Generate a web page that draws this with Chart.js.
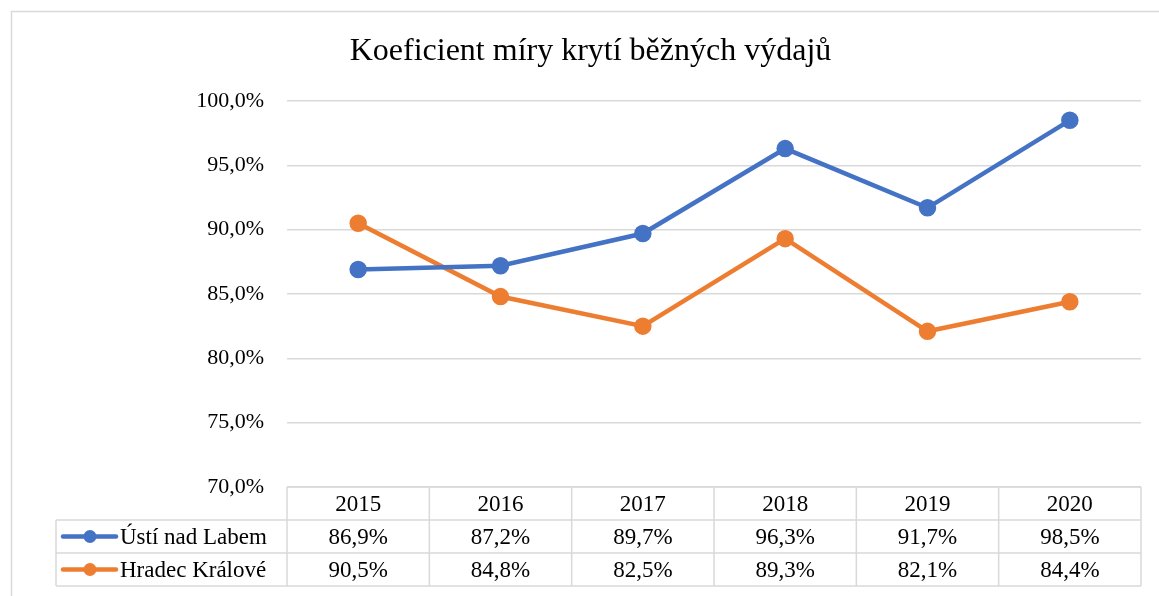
<!DOCTYPE html>
<html>
<head>
<meta charset="utf-8">
<script src="https://cdn.jsdelivr.net/npm/chart.js@4"></script>
<style>
  html, body { margin: 0; padding: 0; background: #fff; }
  #wrap { width: 1159px; height: 596px; position: relative; }
</style>
</head>
<body>
<div id="wrap"><canvas id="chart"></canvas></div>
<script>
// === data ===
const years = ["2015", "2016", "2017", "2018", "2019", "2020"];
const seriesNames = ["Ústí nad Labem", "Hradec Králové"];
const ustiValues = [86.9, 87.2, 89.7, 96.3, 91.7, 98.5];
const hradecValues = [90.5, 84.8, 82.5, 89.3, 82.1, 84.4];
const seriesColors = ["#4472C4", "#ED7D31"];

const FONT = "'Liberation Serif', 'Times New Roman', serif";
const GRID = "#d9d9d9";

const fmt = (v, dec) => v.toFixed(dec).replace(".", ",") + "%";

// frame around the whole chart + data table below the plot
const tablePlugin = {
  id: "dataTable",
  beforeDraw(chart) {
    const ctx = chart.ctx;
    ctx.save();
    ctx.fillStyle = "#fff";
    ctx.fillRect(0, 0, chart.width, chart.height);
    ctx.strokeStyle = GRID;
    ctx.lineWidth = 1.5;
    ctx.strokeRect(11.5, 11.5, chart.width + 20, chart.height + 20);
    ctx.restore();
  },
  afterDraw(chart) {
    const ctx = chart.ctx;
    const area = chart.chartArea;
    const xs = chart.scales.x;
    const rowH = 33;
    const top = area.bottom;
    const legendLeft = 56;
    const colW = (area.right - area.left) / years.length;

    ctx.save();
    ctx.strokeStyle = GRID;
    ctx.lineWidth = 1.5;

    // horizontal lines
    ctx.beginPath();
    ctx.moveTo(area.left, top); ctx.lineTo(area.right, top);
    for (let r = 1; r <= 3; r++) {
      ctx.moveTo(legendLeft, top + r * rowH);
      ctx.lineTo(area.right, top + r * rowH);
    }
    // vertical lines
    for (let c = 0; c <= years.length; c++) {
      const x = area.left + c * colW;
      ctx.moveTo(x, top); ctx.lineTo(x, top + 3 * rowH);
    }
    ctx.moveTo(legendLeft, top + rowH); ctx.lineTo(legendLeft, top + 3 * rowH);
    ctx.stroke();

    ctx.fillStyle = "#000";
    ctx.font = "23px " + FONT;
    ctx.textAlign = "center";
    ctx.textBaseline = "middle";
    years.forEach((y, i) => {
      const x = xs.getPixelForValue(i);
      ctx.fillText(y, x, top + rowH / 2 + 1);
    });

    const rows = [ustiValues, hradecValues];
    rows.forEach((vals, r) => {
      const cy = top + (r + 1) * rowH + rowH / 2 + 1;
      vals.forEach((v, i) => {
        ctx.fillText(fmt(v, 1), xs.getPixelForValue(i), cy);
      });
      // legend key
      ctx.strokeStyle = seriesColors[r];
      ctx.lineWidth = 4.5;
      ctx.lineCap = "round";
      ctx.beginPath();
      ctx.moveTo(63, cy - 1); ctx.lineTo(116, cy - 1);
      ctx.stroke();
      ctx.fillStyle = seriesColors[r];
      ctx.beginPath();
      ctx.arc(90, cy - 1, 6.5, 0, Math.PI * 2);
      ctx.fill();
      ctx.fillStyle = "#000";
      ctx.textAlign = "left";
      ctx.fillText(seriesNames[r], 120, cy);
      ctx.textAlign = "center";
    });
    ctx.restore();
  }
};

const ctx = document.getElementById("chart").getContext("2d");
new Chart(ctx, {
  type: "line",
  data: {
    labels: years,
    datasets: [
      {
        label: seriesNames[0],
        data: ustiValues,
        borderColor: seriesColors[0],
        backgroundColor: seriesColors[0],
        borderWidth: 4.5,
        pointRadius: 6.5,
        tension: 0,
      },
      {
        label: seriesNames[1],
        data: hradecValues,
        borderColor: seriesColors[1],
        backgroundColor: seriesColors[1],
        borderWidth: 4.5,
        pointRadius: 6.5,
        tension: 0,
      },
    ],
  },
  options: {
    responsive: true,
    maintainAspectRatio: false,
    animation: false,
    layout: { padding: { left: 40, right: 18, top: 0, bottom: 109 } },
    plugins: {
      legend: { display: false },
      tooltip: { enabled: false },
      title: {
        display: true,
        text: "Koeficient míry krytí běžných výdajů",
        color: "#000",
        font: { family: FONT, size: 32, weight: "normal", lineHeight: 1.2 },
        padding: { top: 32, bottom: 30.6 },
      },
    },
    scales: {
      x: {
        display: false,
        offset: true,
      },
      y: {
        min: 70,
        max: 100,
        afterFit(scale) { scale.width = 247; },
        border: { display: false },
        grid: { color: GRID, lineWidth: 1.5, drawTicks: false },
        ticks: {
          stepSize: 5,
          padding: 23,
          color: "#000",
          font: { family: FONT, size: 22 },
          callback: (v) => fmt(v, 1),
        },
      },
    },
  },
  plugins: [tablePlugin],
});
</script>
</body>
</html>
